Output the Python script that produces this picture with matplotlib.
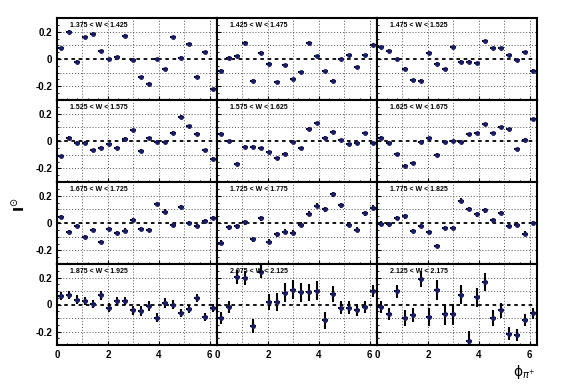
import numpy as np
import matplotlib
matplotlib.use("Agg")
from matplotlib import pyplot as plt
from matplotlib.ticker import MultipleLocator

plt.rcParams['font.family'] = ['Liberation Sans', 'DejaVu Sans']

# phi bins (20 bins over 0..2pi)
phi = (np.arange(20) + 0.5) * 2 * np.pi / 20

w_labels = ['1.375 < W < 1.425', '1.425 < W < 1.475', '1.475 < W < 1.525',
            '1.525 < W < 1.575', '1.575 < W < 1.625', '1.625 < W < 1.675',
            '1.675 < W < 1.725', '1.725 < W < 1.775', '1.775 < W < 1.825',
            '1.875 < W < 1.925', '2.075 < W < 2.125', '2.125 < W < 2.175']

y1 = [0.08, 0.20, -0.02, 0.16, 0.185, 0.055, 0.0, 0.015, 0.17, -0.005,
      -0.135, -0.18, 0.0, -0.075, 0.16, 0.01, 0.11, -0.13, 0.05, -0.22]
y2 = [-0.085, 0.01, 0.02, 0.12, -0.16, 0.045, -0.035, -0.17, -0.045, -0.15,
      -0.095, 0.12, 0.02, -0.09, -0.16, 0.0, 0.03, -0.06, 0.03, 0.105]
y3 = [0.085, 0.06, 0.0, -0.07, -0.155, -0.16, 0.045, -0.035, -0.075, 0.085,
      -0.02, -0.02, -0.03, 0.13, 0.08, 0.08, 0.03, -0.01, 0.05, -0.085]
y4 = [-0.11, 0.025, -0.012, -0.012, -0.066, -0.05, -0.025, -0.05, 0.017, 0.08,
      -0.07, 0.022, -0.005, -0.007, 0.06, 0.178, 0.107, 0.054, -0.068, -0.13]
y5 = [0.054, 0.0, -0.166, -0.041, -0.041, -0.054, -0.08, -0.127, -0.093, -0.005,
      -0.054, 0.09, 0.132, 0.024, 0.068, 0.005, -0.024, -0.017, 0.059, -0.015]
y6 = [0.024, -0.012, -0.098, -0.181, -0.164, -0.005, 0.02, -0.1, -0.007, -0.002,
      -0.005, 0.049, 0.059, 0.124, 0.059, 0.103, 0.085, -0.061, 0.01, 0.161]
y7 = [0.041, -0.067, -0.019, -0.101, -0.048, -0.137, -0.041, -0.072, -0.055, 0.024,
      -0.043, -0.053, 0.14, 0.084, -0.014, 0.12, 0.0, -0.024, 0.017, 0.034]
y8 = [-0.145, -0.031, -0.024, 0.007, -0.12, 0.034, -0.137, -0.084, -0.065, -0.072,
      -0.012, 0.067, 0.125, 0.101, 0.21, 0.13, -0.012, -0.048, 0.072, 0.113]
y9 = [-0.005, -0.01, 0.036, 0.048, -0.06, -0.024, -0.065, -0.169, -0.036, -0.036,
      0.164, 0.101, 0.063, 0.092, 0.019, 0.072, -0.024, -0.012, -0.077, 0.0]
y10 = [0.061, 0.073, 0.037, 0.029, 0.007, 0.068, -0.024, 0.029, 0.029, -0.044,
       -0.049, -0.012, -0.098, 0.012, 0.0, -0.061, -0.032, 0.046, -0.09, -0.024]
y11 = [-0.102, -0.017, 0.203, 0.195, -0.159, 0.244, 0.017, 0.017, 0.088, 0.11,
       0.09, 0.09, 0.102, -0.117, 0.078, -0.024, -0.024, -0.041, -0.02, 0.098]
y12 = [-0.02, -0.073, 0.098, -0.098, -0.078, 0.19, -0.093, 0.11, -0.073, -0.073,
       0.073, -0.268, 0.054, 0.166, -0.098, -0.044, -0.215, -0.225, -0.115, -0.066]

# error bars (upper rows: one size per panel; bottom row per point)
e_small = [0.010, 0.010, 0.010, 0.010, 0.010, 0.010, 0.015, 0.018, 0.016]
e10 = [0.030, 0.030, 0.030, 0.030, 0.030, 0.035, 0.035, 0.030, 0.030, 0.035,
       0.035, 0.035, 0.035, 0.035, 0.035, 0.030, 0.030, 0.030, 0.030, 0.030]
e11 = [0.045, 0.045, 0.050, 0.050, 0.055, 0.050, 0.060, 0.065, 0.070, 0.070,
       0.070, 0.065, 0.070, 0.065, 0.060, 0.050, 0.050, 0.045, 0.045, 0.045]
e12 = [0.045, 0.045, 0.050, 0.060, 0.055, 0.060, 0.065, 0.075, 0.080, 0.080,
       0.070, 0.070, 0.070, 0.065, 0.060, 0.055, 0.050, 0.045, 0.045, 0.040]

ys = [y1, y2, y3, y4, y5, y6, y7, y8, y9, y10, y11, y12]
errs = [[e] * 20 for e in e_small] + [e10, e11, e12]

fig = plt.figure(figsize=(5.67, 3.84), dpi=100)

left = 57 / 567
pw = 160 / 567
row_tops = [18, 100, 182, 264]
row_bots = [100, 182, 264, 345]

for k in range(12):
    r, c = divmod(k, 3)
    b = 1 - row_bots[r] / 384
    h = (row_bots[r] - row_tops[r]) / 384
    ax = fig.add_axes([left + c * pw, b, pw, h])
    ax.set_xlim(0, 2 * np.pi)
    ax.set_ylim(-0.3, 0.3)
    ax.axhline(0, color='black', linestyle=(0, (2, 2)), linewidth=1.3)
    ax.errorbar(phi, ys[k], yerr=errs[k], xerr=0.12, fmt='o', ms=2.5,
                mfc='#1c1c60', mec='#1c1c60', ecolor='black', elinewidth=1.5,
                capsize=0)
    for s in ax.spines.values():
        s.set_linewidth(1.5)
    ax.text(0.08, 0.95, w_labels[k], transform=ax.transAxes, fontsize=5,
            fontweight='bold', va='top', ha='left')

    ax.tick_params(direction='in', length=3, width=0.8, top=False, right=False,
                   labelsize=7)
    ax.tick_params(which='minor', direction='in', length=1.5)
    ax.set_xticks([0, 2, 4, 6])
    ax.set_xticks(np.arange(0, 6.3, 0.4), minor=True)
    ax.set_yticks([-0.2, 0, 0.2])
    ax.set_yticks(np.arange(-0.3, 0.31, 0.05), minor=True)
    # dotted grid
    for xv in range(1, 7):
        ax.axvline(xv, linestyle=(0, (1, 2)), color='#555555', linewidth=0.7, zorder=0)
    for yv in [-0.2, -0.1, 0.1, 0.2]:
        ax.axhline(yv, linestyle=(0, (1, 2)), color='#555555', linewidth=0.7, zorder=0)

    if c == 0:
        ax.set_yticklabels(['-0.2', '0', '0.2'], fontweight='bold')
    else:
        ax.set_yticklabels([])
    if r == 3:
        ax.set_xticklabels(['0', '2', '4', '6'], fontweight='bold')
    else:
        ax.set_xticklabels([])

fig.text(0.033, 0.466, r'$\mathbf{I}^{\odot}$', rotation=90, fontsize=10,
         ha='center', va='center')
fig.text(0.925, 0.03, r'ϕ$_{\pi^{+}}$', fontsize=10, ha='center', va='center',
         family=['DejaVu Sans'])

fig.savefig('out.png', dpi=100)
